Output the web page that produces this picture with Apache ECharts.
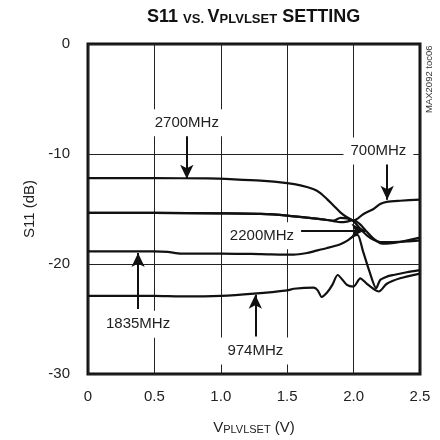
<!DOCTYPE html>
<html>
<head>
<meta charset="utf-8">
<script src="https://cdn.jsdelivr.net/npm/echarts@6/dist/echarts.min.js"></script>
<style>
html,body{margin:0;padding:0;background:#fff;}
#chart{width:440px;height:440px;}
</style>
</head>
<body>
<div id="chart"></div>
<script>
// ---- data ----
const xTickLabels = ['0', '0.5', '1.0', '1.5', '2.0', '2.5'];
const yTickLabels = ['-30', '-20', '-10', '0'];

const v2700 = [0, 0.5, 0.9, 1.1, 1.3, 1.5, 1.6, 1.7, 1.75, 1.8, 1.85, 1.9, 1.95, 2.0, 2.05, 2.1, 2.15, 2.2, 2.3, 2.4, 2.5];
const s2700 = [-12.2, -12.2, -12.22, -12.3, -12.42, -12.65, -12.85, -13.2, -13.55, -14.1, -14.7, -15.3, -15.75, -16.1, -16.8, -17.4, -17.8, -18.0, -18.0, -17.95, -17.85];

const v700 = [0, 0.5, 1.0, 1.3, 1.5, 1.7, 1.8, 1.85, 1.9, 1.95, 2.0, 2.075, 2.15, 2.2, 2.25, 2.35, 2.5];
const s700 = [-15.35, -15.35, -15.4, -15.45, -15.6, -15.85, -16.0, -16.05, -15.8, -15.85, -16.05, -15.45, -15.0, -14.55, -14.35, -14.25, -14.15];

const v2200 = [0, 0.5, 1.0, 1.3, 1.5, 1.7, 1.8, 1.85, 1.9, 1.95, 2.0, 2.05, 2.09, 2.15, 2.2, 2.25, 2.35, 2.5];
const s2200 = [-15.35, -15.35, -15.4, -15.45, -15.6, -15.85, -16.0, -16.1, -16.2, -16.15, -16.0, -16.4, -16.95, -17.7, -18.1, -18.15, -18.0, -17.6];

const v1835 = [0, 0.5, 0.6, 0.7, 1.0, 1.3, 1.55, 1.65, 1.7, 1.8, 1.9, 1.95, 2.0, 2.03, 2.07, 2.12, 2.17, 2.2, 2.25, 2.3, 2.4, 2.5];
const s1835 = [-18.85, -18.85, -18.9, -19.05, -19.05, -19.1, -19.15, -19.0, -18.85, -18.55, -18.2, -17.9, -17.45, -17.35, -18.8, -20.7, -22.2, -21.45, -21.15, -21.0, -20.75, -20.55];

const v974 = [0, 0.5, 0.7, 1.0, 1.25, 1.5, 1.55, 1.7, 1.73, 1.76, 1.8, 1.84, 1.88, 1.95, 2.0, 2.05, 2.1, 2.16, 2.19, 2.25, 2.35, 2.5];
const s974 = [-22.9, -22.9, -22.95, -22.9, -22.7, -22.4, -22.25, -22.15, -22.4, -23.0, -22.6, -21.9, -21.0, -21.9, -22.05, -21.3, -21.8, -22.35, -22.5, -21.8, -21.3, -20.87];

// annotations (data coordinates)
const annoText = ['2700MHz', '700MHz', '2200MHz', '1835MHz', '974MHz'];
const annoV = [0.744, 2.187, 1.31, 0.377, 1.26];
const annoS = [-7.16, -9.73, -17.43, -25.47, -27.9];
const arrowFromV = [0.744, 2.253, 1.574, 0.377, 1.26];
const arrowFromS = [-8.3, -10.8, -16.94, -24.1, -26.6];
const arrowToV = [0.744, 2.253, 2.089, 0.377, 1.26];
const arrowToS = [-12.25, -14.15, -16.94, -19.0, -22.8];

// ---- chart ----
const FONT = "'Liberation Sans', Arial, sans-serif";
const chart = echarts.init(document.getElementById('chart'), null, {renderer: 'canvas'});
const zip = (a, b) => a.map((v, i) => [v, b[i]]);
const curve = (name, v, s) => ({
  name, type: 'line', data: zip(v, s), showSymbol: false, smooth: 0.25,
  lineStyle: {color: '#111', width: 2.2}, z: 3, silent: true
});

const option = {
  animation: false,
  backgroundColor: '#fff',
  title: {
    text: '{a|S11 }{b|VS. }{a|V}{b|PLVLSET}{a| SETTING}',
    left: 142, top: 1,
    textStyle: {
      fontFamily: FONT, fontWeight: 'bold', fontSize: 18, color: '#111',
      rich: {
        a: {fontFamily: FONT, fontWeight: 'bold', fontSize: 18, color: '#111', lineHeight: 20, verticalAlign: 'bottom'},
        b: {fontFamily: FONT, fontWeight: 'bold', fontSize: 13, color: '#111', lineHeight: 20, verticalAlign: 'bottom'}
      }
    }
  },
  grid: {left: 88, right: 20, top: 44, bottom: 64, show: true, borderColor: '#111', borderWidth: 3, backgroundColor: 'transparent'},
  xAxis: {
    type: 'value', min: 0, max: 2.5, interval: 0.5,
    axisLine: {show: false}, axisTick: {show: false},
    splitLine: {show: true, lineStyle: {color: '#222', width: 1}},
    axisLabel: {
      margin: 15, fontFamily: FONT, fontSize: 15, color: '#222',
      formatter: (v) => xTickLabels[Math.round(v / 0.5)]
    },
    name: '{a|V}{b|PLVLSET}{a| (V)}',
    nameLocation: 'middle', nameGap: 43,
    nameTextStyle: {
      rich: {
        a: {fontFamily: FONT, fontSize: 15, color: '#222', lineHeight: 18, verticalAlign: 'bottom'},
        b: {fontFamily: FONT, fontSize: 11, color: '#222', lineHeight: 18, verticalAlign: 'bottom'}
      }
    }
  },
  yAxis: {
    type: 'value', min: -30, max: 0, interval: 10,
    axisLine: {show: false}, axisTick: {show: false},
    splitLine: {show: true, lineStyle: {color: '#222', width: 1}},
    axisLabel: {
      margin: 18, fontFamily: FONT, fontSize: 15, color: '#222',
      formatter: (v) => yTickLabels[Math.round((v + 30) / 10)]
    },
    name: 'S11 (dB)', nameLocation: 'middle', nameGap: 47, nameRotate: 90,
    nameTextStyle: {fontFamily: FONT, fontSize: 15, color: '#222'}
  },
  graphic: [{
    type: 'text', x: 424, y: 113, rotation: Math.PI / 2,
    style: {text: 'MAX2092 toc06', fontFamily: FONT, fontSize: 9.5, fill: '#333'}
  }],
  series: [
    curve('2700MHz', v2700, s2700),
    curve('700MHz', v700, s700),
    curve('2200MHz', v2200, s2200),
    curve('1835MHz', v1835, s1835),
    curve('974MHz', v974, s974),
    {
      name: 'annotations', type: 'line', data: [], z: 4, silent: true,
      markLine: {
        silent: true, animation: false,
        symbol: ['none', 'arrow'], symbolSize: [10, 14],
        lineStyle: {color: '#111', width: 2, type: 'solid'},
        label: {show: false},
        data: arrowFromV.map((v, i) => [
          {coord: [v, arrowFromS[i]]},
          {coord: [arrowToV[i], arrowToS[i]]}
        ])
      },
      markPoint: {
        silent: true, animation: false,
        symbol: 'rect', symbolSize: 1, itemStyle: {color: 'rgba(0,0,0,0)'},
        label: {
          show: true, position: 'inside', fontFamily: FONT, fontSize: 15, color: '#222',
          backgroundColor: '#fff', padding: [6, 7]
        },
        data: annoText.map((t, i) => ({coord: [annoV[i], annoS[i]], value: t, label: {formatter: t}}))
      }
    }
  ]
};
chart.setOption(option);
</script>
</body>
</html>
